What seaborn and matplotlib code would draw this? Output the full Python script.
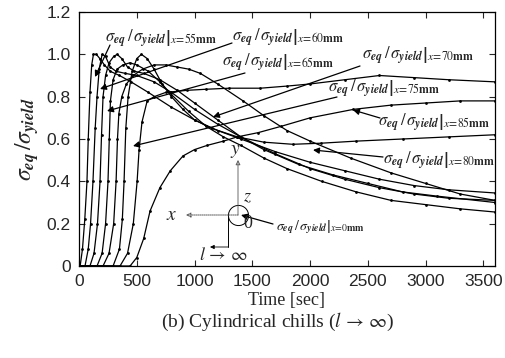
import numpy as np
import pandas as pd
import matplotlib
matplotlib.use("Agg")
import matplotlib.pyplot as plt
import seaborn as sns

# ---------------- data ----------------
t_c1 = [0, 10, 30, 50, 69, 80, 95, 110, 125, 150, 180, 220, 270, 350, 450, 600, 800, 1000, 1200, 1400, 1700, 2000, 2300, 2600, 2900, 3200, 3600]
v_c1 = [0, 0, 0.08, 0.22, 0.40, 0.60, 0.82, 0.95, 1.0, 1.0, 0.98, 0.95, 0.92, 0.90, 0.87, 0.82, 0.75, 0.69, 0.64, 0.60, 0.54, 0.49, 0.45, 0.41, 0.38, 0.36, 0.345]

t_c2 = [0, 52, 80, 100, 121, 140, 156, 175, 200, 230, 270, 320, 400, 500, 650, 800, 1000, 1200, 1400, 1700, 2000, 2300, 2600, 2900, 3200, 3600]
v_c2 = [0, 0, 0.08, 0.20, 0.40, 0.65, 0.80, 0.93, 1.0, 0.99, 0.94, 0.92, 0.91, 0.90, 0.87, 0.82, 0.74, 0.67, 0.61, 0.53, 0.46, 0.41, 0.37, 0.34, 0.32, 0.31]

t_c3 = [0, 95, 130, 160, 182, 195, 208, 230, 260, 300, 330, 370, 420, 480, 560, 700, 850, 1000, 1200, 1400, 1600, 1900, 2200, 2500, 2800, 3100, 3600]
v_c3 = [0, 0, 0.06, 0.20, 0.40, 0.62, 0.80, 0.90, 0.96, 0.99, 1.0, 0.98, 0.94, 0.92, 0.91, 0.88, 0.83, 0.77, 0.69, 0.61, 0.55, 0.48, 0.43, 0.39, 0.35, 0.33, 0.30]

t_c4 = [0, 156, 200, 230, 251, 262, 272, 295, 330, 380, 440, 500, 600, 700, 800, 950, 1100, 1250, 1400, 1600, 1800, 2100, 2400, 2700, 3000, 3300, 3600]
v_c4 = [0, 0, 0.06, 0.20, 0.40, 0.60, 0.78, 0.88, 0.93, 0.95, 0.96, 0.95, 0.92, 0.87, 0.81, 0.73, 0.66, 0.61, 0.57, 0.51, 0.46, 0.40, 0.35, 0.31, 0.29, 0.27, 0.255]

t_c5 = [0, 208, 260, 300, 321, 333, 345, 370, 410, 470, 550, 650, 750, 850, 950, 1050, 1200, 1420, 1600, 1800, 2000, 2350, 2700, 3000, 3300, 3600]
v_c5 = [0, 0, 0.06, 0.20, 0.40, 0.60, 0.72, 0.80, 0.86, 0.90, 0.93, 0.95, 0.95, 0.94, 0.93, 0.91, 0.86, 0.78, 0.71, 0.64, 0.59, 0.51, 0.44, 0.39, 0.34, 0.31]

t_c6 = [0, 295, 350, 375, 390, 405, 425, 460, 500, 540, 590, 650, 720, 800, 900, 1000, 1150, 1370, 1600, 1850, 2090, 2400, 2800, 3200, 3600]
v_c6 = [0, 0, 0.08, 0.22, 0.40, 0.65, 0.80, 0.92, 0.98, 1.0, 0.98, 0.93, 0.86, 0.80, 0.74, 0.69, 0.65, 0.61, 0.585, 0.575, 0.58, 0.59, 0.60, 0.61, 0.62]

t_c7 = [0, 355, 420, 470, 503, 520, 545, 590, 650, 750, 935, 1100, 1300, 1570, 1800, 2000, 2300, 2600, 2900, 3200, 3600]
v_c7 = [0, 0, 0.06, 0.20, 0.40, 0.55, 0.68, 0.78, 0.80, 0.82, 0.83, 0.835, 0.84, 0.84, 0.85, 0.86, 0.88, 0.90, 0.89, 0.88, 0.87]

t_c8 = [0, 442, 500, 560, 615, 700, 790, 900, 1000, 1110, 1250, 1370, 1550, 1750, 2000, 2375, 2700, 3000, 3300, 3600]
v_c8 = [0, 0, 0.04, 0.13, 0.26, 0.37, 0.45, 0.52, 0.55, 0.57, 0.59, 0.61, 0.63, 0.66, 0.70, 0.74, 0.76, 0.77, 0.78, 0.78]

curve_names = ["c1", "c2", "c3", "c4", "c5", "c6", "c7", "c8"]
curve_t = [t_c1, t_c2, t_c3, t_c4, t_c5, t_c6, t_c7, t_c8]
curve_v = [v_c1, v_c2, v_c3, v_c4, v_c5, v_c6, v_c7, v_c8]

x_ticks = [0, 500, 1000, 1500, 2000, 2500, 3000, 3500]
y_ticks = [0, 0.2, 0.4, 0.6, 0.8, 1.0, 1.2]
y_tick_labels = ["0", "0.2", "0.4", "0.6", "0.8", "1.0", "1.2"]

label_positions = ["55", "60", "65", "70", "75", "85", "80", "0"]

df = pd.concat(
    [pd.DataFrame({"time": t, "ratio": v, "curve": n}) for n, t, v in zip(curve_names, curve_t, curve_v)],
    ignore_index=True,
)

# ---------------- style ----------------
sns.set_style("ticks")
plt.rcParams["font.family"] = ["Liberation Serif", "DejaVu Serif"]
plt.rcParams["mathtext.fontset"] = "stix"

W, H = 505, 358
fig = plt.figure(figsize=(W / 100, H / 100), dpi=100)
L, R, T, B = 79, 495, 12, 266
ax = fig.add_axes([L / W, 1 - B / H, (R - L) / W, (B - T) / H])

sns.lineplot(data=df, x="time", y="ratio", units="curve", estimator=None, sort=False,
             color="black", linewidth=0.9, marker="o", markersize=2.0,
             markeredgewidth=0, ax=ax, legend=False)

ax.set_xlim(0, 3600)
ax.set_ylim(0, 1.2)
ax.set_xticks(x_ticks)
ax.set_yticks(y_ticks)
ax.set_yticklabels(y_tick_labels)
ax.tick_params(direction="in", top=True, right=True, length=4, width=0.8, pad=6)
for lab in ax.get_xticklabels() + ax.get_yticklabels():
    lab.set_fontfamily("Liberation Sans")
    lab.set_fontsize(12.5)
for s in ax.spines.values():
    s.set_linewidth(0.9)
    s.set_color("black")

ax.set_xlabel("Time [sec]", fontsize=13, labelpad=2)
ax.set_ylabel(r"$\sigma_{\mathbfit{eq}}\,/\sigma_{\mathbfit{yield}}$", fontsize=17, labelpad=4)
fig.text(278 / W, 1 - 322 / H, r"(b) Cylindrical chills ($l\,\rightarrow\,\infty$)",
         ha="center", va="center", fontsize=14)


def P(px, py):
    """pixel position of the reference -> data coords (layout helper)"""
    return ((px - L) / ((R - L) / 3600.0), (B - py) / ((B - T) / 1.2))


def label(txt_sub, px, py, size=12):
    s = (r"$\left.\sigma_{\mathbfit{eq}}\,/\,\sigma_{\mathbfit{yield}}\right|_{x\!=\!%s\mathbf{mm}}$"
         % txt_sub)
    ax.text(*P(px, py), s, fontsize=size, ha="left", va="center")


def arrow(p0, p1):
    ax.annotate("", xy=P(*p1), xytext=P(*p0),
                arrowprops=dict(arrowstyle="-|>", color="black", lw=0.9,
                                mutation_scale=9, shrinkA=0, shrinkB=0))


label(label_positions[0], 105, 38)
label(label_positions[1], 232, 37)
label(label_positions[2], 222, 62)
label(label_positions[3], 362, 55)
label(label_positions[4], 328, 88)
label(label_positions[5], 378, 122)
label(label_positions[6], 383, 160)
label(label_positions[7], 276, 227, size=10)

arrow((110, 45), (95, 77))
arrow((232, 43), (100, 89))
arrow((245, 73), (107, 111))
arrow((360, 66), (213, 117))
arrow((337, 97), (133, 146))
arrow((380, 118), (353, 110))
arrow((383, 157), (313, 150))
arrow((273, 224), (241, 215))

# ---------------- coordinate sketch ----------------
gray = "#555555"
ax.annotate("", xy=P(238, 160), xytext=P(238, 215),
            arrowprops=dict(arrowstyle="-|>", color=gray, lw=0.6, mutation_scale=7,
                            shrinkA=0, shrinkB=0, fill=False))
ax.annotate("", xy=P(186, 215), xytext=P(238, 215),
            arrowprops=dict(arrowstyle="-|>", color=gray, lw=0.7, ls=(0, (1, 1)),
                            mutation_scale=7, shrinkA=0, shrinkB=0, fill=False))
ax.plot(*P(238, 215), marker="o", ms=14.5, mfc="none", mec="black", mew=0.7)
ax.plot(*zip(P(228, 217), P(228, 247)), color="black", lw=0.7)
ax.annotate("", xy=P(210, 247), xytext=P(228, 247),
            arrowprops=dict(arrowstyle="-|>", color="black", lw=0.6, mutation_scale=6,
                            shrinkA=0, shrinkB=0))
ax.text(*P(235, 151), r"$y$", fontsize=14, ha="center", va="center")
ax.text(*P(172, 216), r"$x$", fontsize=14, ha="center", va="center")
ax.text(*P(247, 197), r"$z$", fontsize=13, ha="center", va="center")
ax.text(*P(248, 224), "0", fontsize=13, ha="center", va="center")
ax.text(*P(223, 256), r"$l\,\rightarrow\,\infty$", fontsize=13, ha="center", va="center")

fig.savefig("out.png", dpi=100)
